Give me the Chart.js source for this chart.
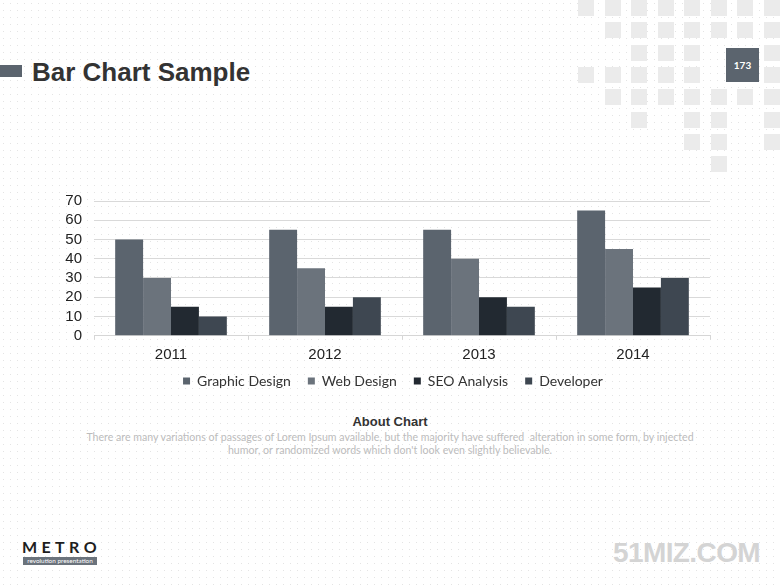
<!DOCTYPE html>
<html>
<head>
<meta charset="utf-8">
<script src="https://cdn.jsdelivr.net/npm/chart.js@4/dist/chart.umd.min.js"></script>
<style>
  html, body { margin: 0; padding: 0; }
  body {
    width: 780px; height: 585px; overflow: hidden; position: relative;
    background-color: #ffffff;
    background-image: radial-gradient(circle, #e4e4e4 0.6px, rgba(255,255,255,0) 1px);
    background-size: 7px 7px;
    font-family: "Liberation Sans", Arial, sans-serif;
  }
  .sq { position: absolute; width: 16px; height: 16px; background: #ebebeb; }
  #pg { position: absolute; left: 726px; top: 48px; width: 33px; height: 34px; background: #5b646e;
        color: #fff; font: bold 10px "Lato", sans-serif; text-align: center; line-height: 34px; }
  #tbar { position: absolute; left: 0; top: 65px; width: 22px; height: 12px; background: #5b646e; }
  #title { position: absolute; left: 32px; top: 59px; font: bold 26px/1 "Liberation Sans", Arial, sans-serif; color: #333; white-space: nowrap; }
  #cwrap { position: absolute; left: 0; top: 180px; width: 780px; height: 234px; }
  #about { position: absolute; left: 0; width: 780px; top: 415px; text-align: center; font: bold 13px/1 "Liberation Sans", Arial, sans-serif; color: #333; }
  #para { position: absolute; left: 0; width: 780px; top: 431px; text-align: center; font: 10.6px/13px "Lato", sans-serif; color: #bcbcbc; white-space: nowrap; }
  #metro { position: absolute; left: 22px; top: 539px; font: bold 16px/1 "Lato", sans-serif; letter-spacing: 4.4px; color: #1e1e1e; }
  #rev { position: absolute; left: 23px; top: 557px; width: 74px; height: 8px; background: #6b737c; color: #fff;
         font: 6.4px/8px "Lato", sans-serif; text-align: center; white-space: nowrap; overflow: hidden; }
  #wm { position: absolute; left: 613px; top: 539px; font: bold 28px/1 "Liberation Sans", Arial, sans-serif; color: #d4d4d4; letter-spacing: -0.6px; }
</style>
</head>
<body>
<div id="squares"></div>
<div id="pg">173</div>
<div id="tbar"></div>
<div id="title">Bar Chart Sample</div>
<div id="cwrap"><canvas id="c" width="780" height="234"></canvas></div>
<div id="about">About Chart</div>
<div id="para">There are many variations of passages of Lorem Ipsum available, but the majority have suffered&nbsp; alteration in some form, by injected<br>humor, or randomized words which don't look even slightly believable.</div>
<div id="metro">METRO</div>
<div id="rev">revolution presentation</div>
<div id="wm">51MIZ.COM</div>
<script>
// ---- data ----
const categories = ["2011", "2012", "2013", "2014"];
const graphicDesign = [50, 55, 55, 65];
const webDesign = [30, 35, 40, 45];
const seoAnalysis = [15, 15, 20, 25];
const developer = [10, 20, 15, 30];
const seriesNames = ["Graphic Design", "Web Design", "SEO Analysis", "Developer"];
const yTicks = [0, 10, 20, 30, 40, 50, 60, 70];

// ---- decorative squares ----
const sqRows = [
  [0,1,2,3,4,5,6,7],
  [1,2,3,4,5,6,7],
  [2,3,4,7],
  [0,1,2,3,4,7],
  [1,2,3,4,5,6,7],
  [2,4,5,7],
  [4,5,7],
  [5]
];
const sqWrap = document.getElementById('squares');
sqRows.forEach((cols, r) => {
  cols.forEach(c => {
    const d = document.createElement('div');
    d.className = 'sq';
    d.style.left = (578 + c * 26.5) + 'px';
    d.style.top = (r * 22.3) + 'px';
    sqWrap.appendChild(d);
  });
});

// ---- chart ----
const colors = ["#5b646e", "#6b737c", "#222931", "#3e4751"];
const seriesData = [graphicDesign, webDesign, seoAnalysis, developer];

const legendShift = {
  id: 'legendShift',
  afterLayout(chart) {
    const lg = chart.legend;
    if (lg) { lg.left += 21; lg.right += 21; lg.top -= 8.7; lg.bottom -= 8.7; }
  }
};

new Chart(document.getElementById('c'), {
  type: 'bar',
  data: {
    labels: categories,
    datasets: seriesNames.map((n, i) => ({
      label: n,
      data: seriesData[i],
      backgroundColor: colors[i],
      borderWidth: 0,
      categoryPercentage: 0.725,
      barPercentage: 1.0
    }))
  },
  options: {
    responsive: false,
    animation: false,
    devicePixelRatio: 1,
    layout: { padding: { left: 34, right: 70, top: 18.5, bottom: 7.3 } },
    plugins: {
      tooltip: { enabled: false },
      legend: {
        position: 'bottom',
        labels: {
          boxWidth: 7, boxHeight: 7, padding: 17,
          color: '#333',
          font: { family: 'Lato', size: 14 }
        }
      }
    },
    scales: {
      x: {
        grid: { display: true, drawOnChartArea: false, drawTicks: true, tickLength: 4, color: '#d6d6d6', offset: true },
        border: { display: true, color: '#d6d6d6' },
        ticks: { color: '#222', padding: 6, font: { family: 'Liberation Sans', size: 15 } },
        afterFit: s => { s.height = 30; }
      },
      y: {
        min: 0, max: 70,
        afterBuildTicks: s => { s.ticks = yTicks.map(v => ({ value: v })); },
        grid: { color: '#d9d9d9', drawTicks: false },
        border: { display: false },
        ticks: { color: '#222', padding: 12, autoSkip: false, font: { family: 'Liberation Sans', size: 15 } },
        afterFit: s => { s.width = 60; }
      }
    }
  },
  plugins: [legendShift]
});
</script>
</body>
</html>
